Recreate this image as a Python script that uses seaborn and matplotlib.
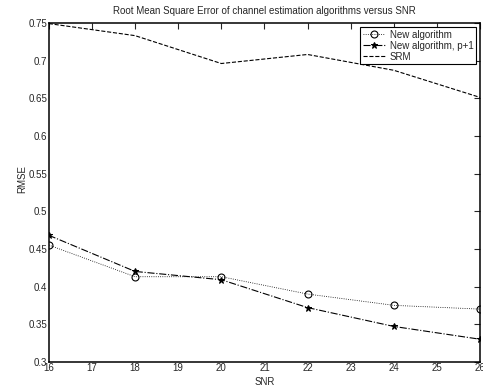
import matplotlib
matplotlib.use("Agg")
import matplotlib.pyplot as plt
import seaborn as sns

snr = [16, 18, 20, 22, 24, 26]
rmse_new = [0.455, 0.413, 0.413, 0.390, 0.375, 0.370]
rmse_p1 = [0.468, 0.420, 0.409, 0.372, 0.347, 0.330]
rmse_srm = [0.749, 0.733, 0.696, 0.708, 0.687, 0.651]

sns.set_style("white", {"xtick.direction": "in", "ytick.direction": "in"})
plt.rcParams['font.family'] = ['Liberation Sans', 'DejaVu Sans']
plt.rcParams['font.size'] = 7

fig = plt.figure(figsize=(4.83, 3.87), dpi=100)
ax = fig.add_axes([0.101, 0.065, 0.893, 0.876])

sns.lineplot(x=snr, y=rmse_new, ax=ax, color='black', linestyle=':', linewidth=0.6,
             marker='o', markersize=5, markerfacecolor='none', markeredgecolor='black',
             markeredgewidth=0.8, label='New algorithm')
sns.lineplot(x=snr, y=rmse_p1, ax=ax, color='black', linestyle='-.', linewidth=0.8,
             marker='*', markersize=5, markerfacecolor='black', markeredgecolor='black',
             label='New algorithm, p+1')
sns.lineplot(x=snr, y=rmse_srm, ax=ax, color='black', linestyle='--', linewidth=0.8,
             dashes=(6, 4), label='SRM')

ax.set_xlim(16, 26)
ax.set_ylim(0.3, 0.75)
ax.set_xticks(range(16, 27))
ax.set_yticks([0.3, 0.35, 0.4, 0.45, 0.5, 0.55, 0.6, 0.65, 0.7, 0.75])
ax.set_yticklabels(['0.3', '0.35', '0.4', '0.45', '0.5', '0.55', '0.6', '0.65', '0.7', '0.75'])
ax.tick_params(direction='in', top=True, right=True, length=4, width=0.8, labelsize=7, pad=1)
for s in ax.spines.values():
    s.set_color('black')
    s.set_linewidth(1.1)

ax.set_xlabel('SNR', fontsize=7)
ax.set_ylabel('RMSE', fontsize=7)
ax.xaxis.set_label_coords(0.5, -0.045)
ax.yaxis.set_label_coords(-0.05, 0.54)
ax.set_title('Root Mean Square Error of channel estimation algorithms versus SNR', fontsize=7, pad=6)

leg = ax.legend(loc='upper right', fontsize=7, frameon=True, fancybox=False,
                edgecolor='black', handlelength=2.2, borderpad=0.3, labelspacing=0.1,
                handletextpad=0.5, borderaxespad=0.4)
leg.get_frame().set_linewidth(0.8)
leg.get_frame().set_alpha(1)

fig.savefig('out.png', dpi=100)
